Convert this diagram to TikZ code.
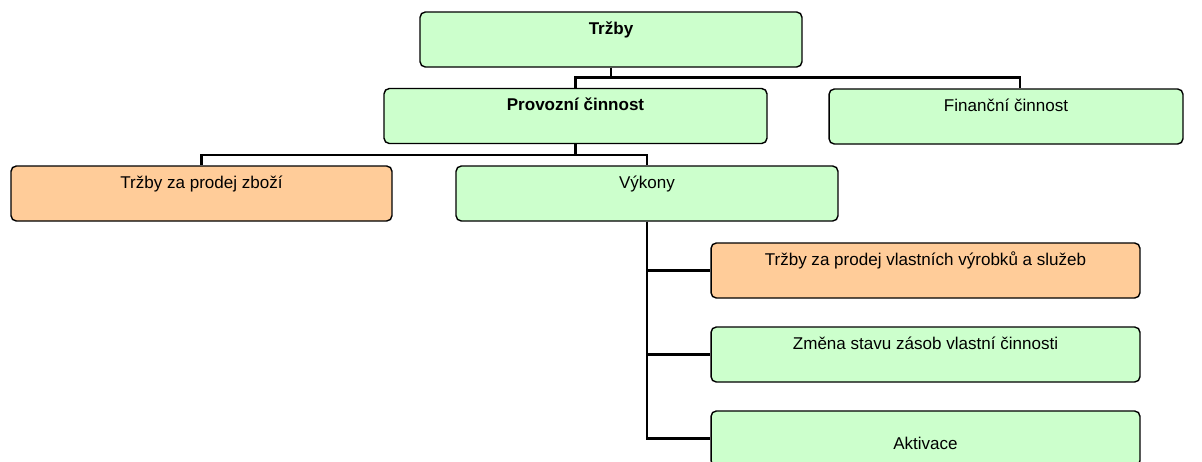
\documentclass[tikz,border=0pt]{standalone}
\usepackage{fontspec}
\setmainfont{Liberation Sans}
\definecolor{lightgreen}{HTML}{CCFFCC}
\definecolor{lightorange}{HTML}{FFCC99}
\tikzset{
  box/.style={draw, line width=0.8pt, rounded corners=3pt, fill=lightgreen,
    inner sep=0pt, text height=0.44cm, text depth=0.66cm,
    font=\fontsize{9.7}{11.6}\selectfont},
  lowbox/.style={box, text height=0.76cm, text depth=0.34cm},
  conn/.style={line width=1.4pt}
}
\begin{document}
\begin{tikzpicture}[x=0.02cm,y=-0.02cm]
  \useasboundingbox (0,0) rectangle (1202,461);
  \node[box, minimum width=7.64cm] (trzby) at (611,39.5) {\textbf{Tržby}};
  \node[box, minimum width=7.66cm] (provozni) at (575.5,116) {\textbf{Provozní činnost}};
  \node[box, minimum width=7.08cm] (financni) at (1006,116.5) {Finanční činnost};
  \node[box, minimum width=7.62cm, fill=lightorange] (zbozi) at (201.5,193.5) {Tržby za prodej zboží};
  \node[box, minimum width=7.64cm] (vykony) at (647,193.5) {Výkony};
  \node[box, minimum width=8.58cm, fill=lightorange] (vyrobky) at (925.5,270.5) {Tržby za prodej vlastních výrobků a služeb};
  \node[box, minimum width=8.58cm] (zmena) at (925.5,354.5) {Změna stavu zásob vlastní činnosti};
  \node[lowbox, minimum width=8.58cm] (aktivace) at (925.5,438.5) {Aktivace};

  % tree connectors
  \draw[conn] (trzby.south) -- ++(0,10) -| (provozni.north);
  \draw[conn] (trzby.south) -- ++(0,10) -| ([xshift=0.28cm]financni.north);
  \draw[conn] (provozni.south) -- ++(0,11) -| (zbozi.north);
  \draw[conn] (provozni.south) -- ++(0,11) -| (vykony.north);
  \draw[conn] (vykony.south) |- (vyrobky.west);
  \draw[conn] (vykony.south) |- (zmena.west);
  \draw[conn] (vykony.south) |- (aktivace.west);
\end{tikzpicture}
\end{document}
